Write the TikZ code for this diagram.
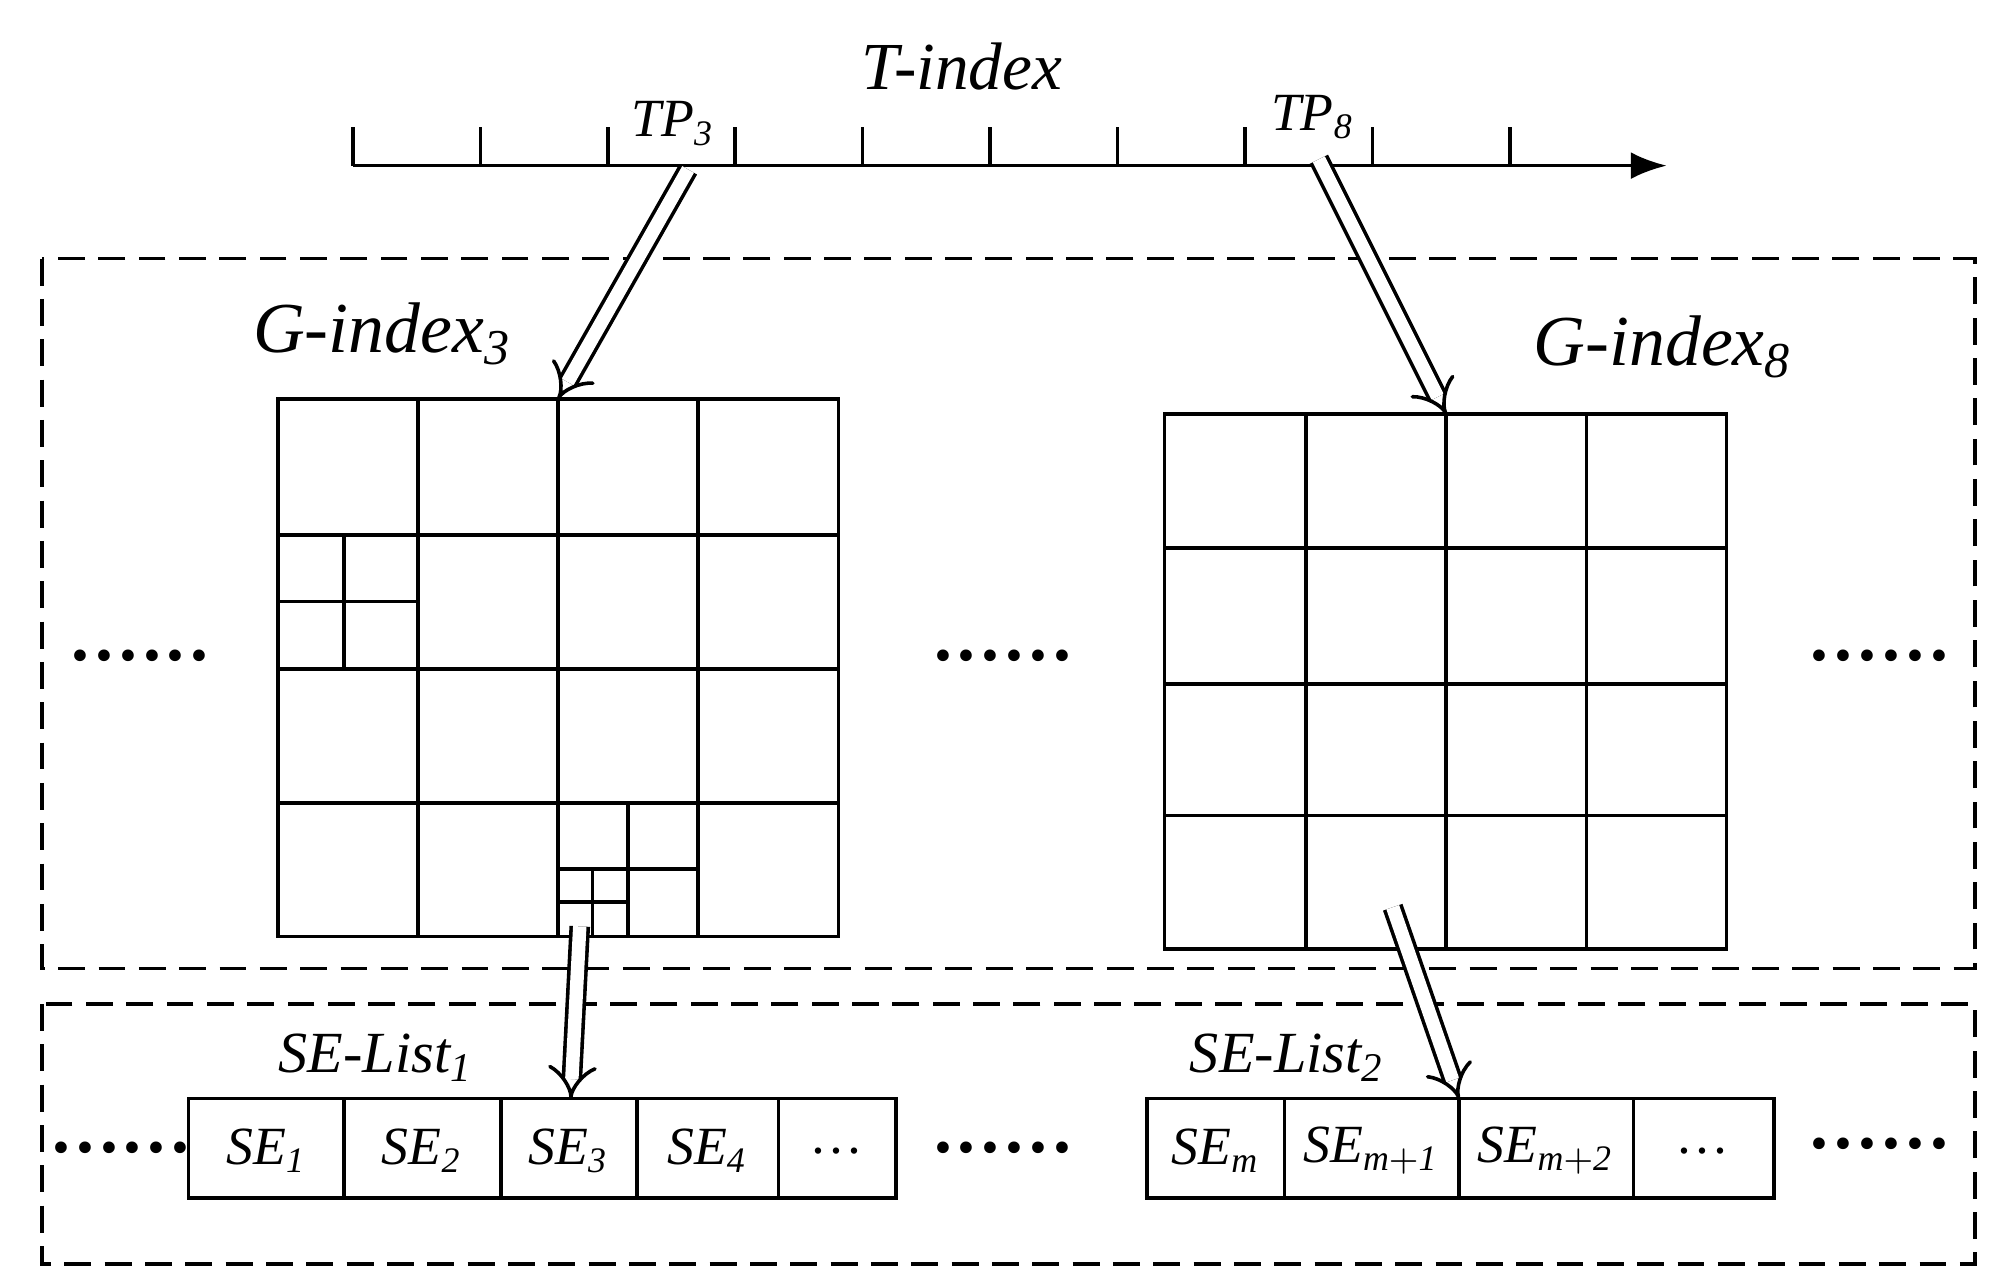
\documentclass[tikz,border=0pt]{standalone}
\usepackage{fontspec}
\setmainfont{Liberation Serif}
\usetikzlibrary{arrows.meta}

\tikzset{
  box/.style={thick, dash pattern=on 6pt off 3pt},
  grid/.style={thick},
  hollow/.style={double, double distance=3pt, thick, -{Implies[length=7pt]}},
  lbl/.style={font=\itshape, inner sep=0pt},
  dots/.style={font=\bfseries\fontsize{16}{16}\selectfont, inner sep=0pt}
}

\begin{document}
\begin{tikzpicture}[x=0.01cm, y=-0.01cm]
  \useasboundingbox (0,0) rectangle (1568,1004);

  % time axis
  \draw[thick, -{Latex[length=8pt]}] (277,130) -- (1308,130);
  \foreach \x in {277,377,477,577,677,777,877,977,1077,1185}
    \draw[thick] (\x,130) -- (\x,100);
  \node[lbl, font=\itshape\fontsize{15}{15}\selectfont] (tindex) at (755,52) {T-index};
  \node[lbl, font=\itshape\fontsize{12}{12}\selectfont] (tp3) at (528,97) {TP$_{\mathit 3}$};
  \node[lbl, font=\itshape\fontsize{12}{12}\selectfont] (tp8) at (1030,92) {TP$_{\mathit 8}$};
  \coordinate (t3) at (540,133);
  \coordinate (t8) at (1035,125);

  % dashed frames
  \draw[box] (33,203) rectangle (1550,760);
  \draw[box] (33,788) rectangle (1550,992);

  % first grid with finer cells
  \draw[grid] (218,313) rectangle (658,735);
  \foreach \x in {328,438,548} \draw[grid] (\x,313) -- (\x,735);
  \foreach \y in {420,525,630} \draw[grid] (218,\y) -- (658,\y);
  \draw[grid] (270,420) -- (270,525) (218,472) -- (328,472);
  \draw[grid] (493,630) -- (493,735) (438,682) -- (548,682);
  \draw[grid] (465,682) -- (465,735) (438,708) -- (493,708);
  \coordinate (g3) at (438,313);
  \coordinate (c3) at (455,727);

  % second grid
  \draw[grid] (914,325) rectangle (1355,745);
  \foreach \x in {1025,1135,1245} \draw[grid] (\x,325) -- (\x,745);
  \foreach \y in {430,537,640} \draw[grid] (914,\y) -- (1355,\y);
  \coordinate (g8) at (1135,325);
  \coordinate (c8) at (1093,712);

  \node[lbl, font=\itshape\fontsize{16}{16}\selectfont] (gi3) at (300,262) {G-index$_{\mathit 3}$};
  \node[lbl, font=\itshape\fontsize{16}{16}\selectfont] (gi8) at (1305,272) {G-index$_{\mathit 8}$};

  % SE lists
  \draw[grid] (148,862) rectangle (703,940);
  \foreach \x in {270,393,500,611} \draw[grid] (\x,862) -- (\x,940);
  \draw[grid] (900,862) rectangle (1392,940);
  \foreach \x in {1008,1145,1282} \draw[grid] (\x,862) -- (\x,940);
  \foreach \x/\t [count=\i] in {209/{SE$_{\mathit 1}$}, 331/{SE$_{\mathit 2}$}, 446/{SE$_{\mathit 3}$}, 555/{SE$_{\mathit 4}$}, 657/{\ldots},
      954/{SE$_{\mathit m}$}, 1076/{SE$_{\mathit{m+1}}$}, 1213/{SE$_{\mathit{m+2}}$}, 1337/{\ldots}}
    \node[lbl, font=\itshape\fontsize{12}{12}\selectfont] (se\i) at (\x,903) {\t};
  \coordinate (s3) at (448,862);
  \coordinate (s7) at (1145,862);
  \node[lbl, font=\itshape\fontsize{13}{13}\selectfont] (sl1) at (295,830) {SE-List$_{\mathit 1}$};
  \node[lbl, font=\itshape\fontsize{13}{13}\selectfont] (sl2) at (1010,830) {SE-List$_{\mathit 2}$};

  % dots
  \foreach \x/\y [count=\i] in {110/522, 787/522, 1475/522, 95/908, 787/908, 1475/905}
    \node[dots] (d\i) at (\x,\y) {\textperiodcentered\textperiodcentered\textperiodcentered\textperiodcentered\textperiodcentered\textperiodcentered};

  % pointers
  \draw[hollow] (t3) -- (g3);
  \draw[hollow] (t8) -- (g8);
  \draw[hollow] (c3) -- (s3);
  \draw[hollow] (c8) -- (s7);
\end{tikzpicture}
\end{document}
